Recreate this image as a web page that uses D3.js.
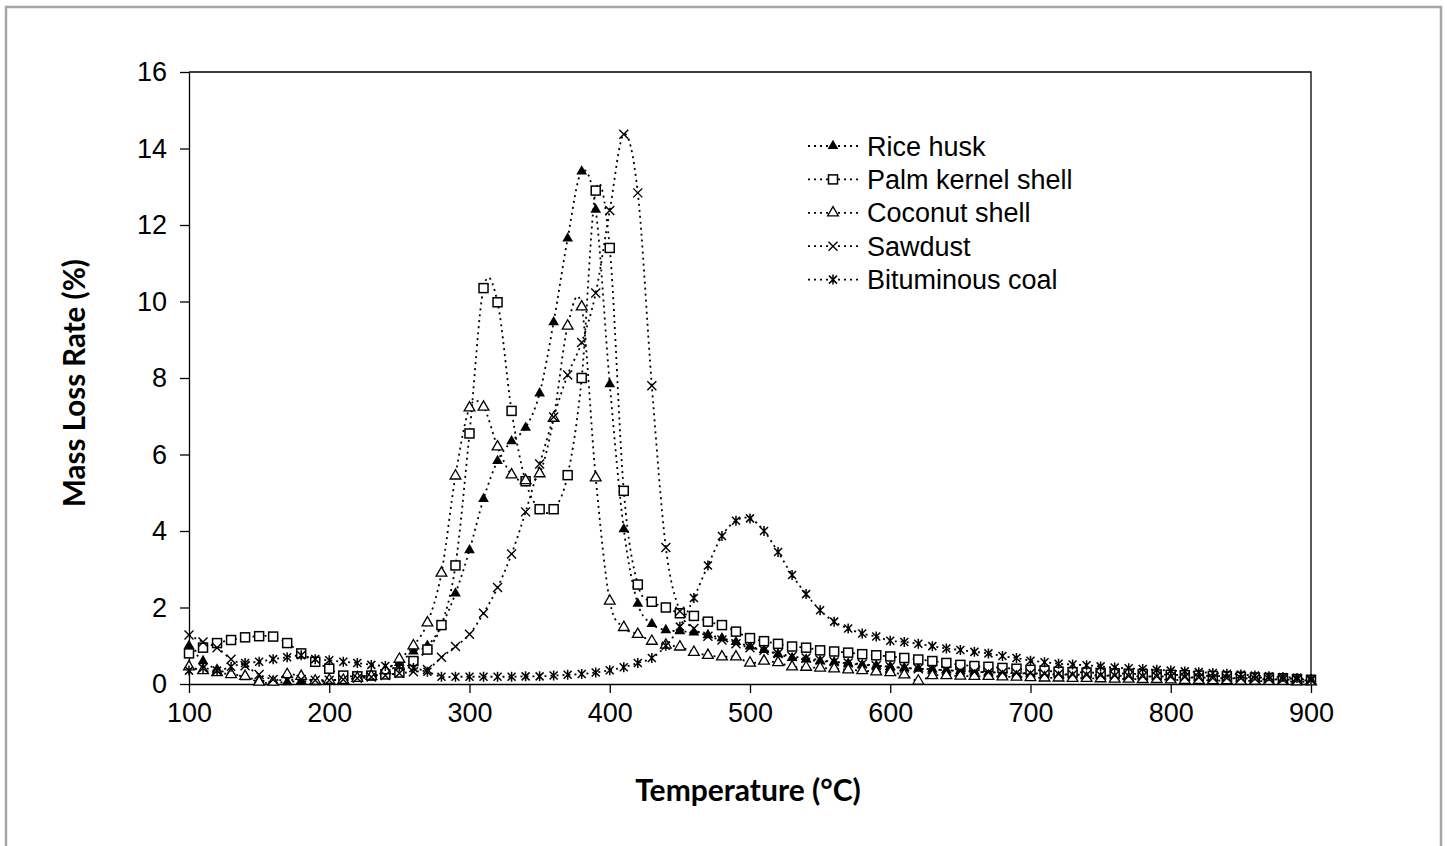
<!DOCTYPE html>
<html><head><meta charset="utf-8">
<script src="https://cdn.jsdelivr.net/npm/d3@7"></script>
<style>body{margin:0;background:#fff;}svg{display:block;}</style>
</head><body>
<svg id="chart" width="1447" height="846"></svg>
<script>
const temperatures = [100,110,120,130,140,150,160,170,180,190,200,210,220,230,240,250,260,270,280,290,300,310,320,330,340,350,360,370,380,390,400,410,420,430,440,450,460,470,480,490,500,510,520,530,540,550,560,570,580,590,600,610,620,630,640,650,660,670,680,690,700,710,720,730,740,750,760,770,780,790,800,810,820,830,840,850,860,870,880,890,900];
const riceHusk = [1.0,0.6,0.38,0.28,0.18,0.1,0.05,0.05,0.08,0.05,0.08,0.15,0.2,0.22,0.28,0.55,0.85,1.0,1.52,2.37,3.5,4.84,5.83,6.35,6.7,7.6,9.46,11.65,13.4,12.4,7.84,4.05,2.1,1.57,1.41,1.38,1.35,1.28,1.2,1.1,0.98,0.89,0.78,0.68,0.64,0.6,0.57,0.54,0.5,0.48,0.45,0.42,0.4,0.38,0.36,0.34,0.32,0.3,0.29,0.28,0.27,0.26,0.25,0.24,0.23,0.22,0.21,0.2,0.2,0.19,0.18,0.17,0.16,0.15,0.15,0.14,0.13,0.12,0.11,0.1,0.09];
const palmKernelShell = [0.8,0.95,1.07,1.15,1.22,1.25,1.24,1.07,0.8,0.58,0.4,0.22,0.2,0.22,0.25,0.3,0.6,0.9,1.54,3.1,6.55,10.35,9.98,7.14,5.3,4.57,4.57,5.46,8.0,12.9,11.4,5.05,2.6,2.15,2.0,1.85,1.78,1.63,1.54,1.37,1.2,1.12,1.05,0.98,0.95,0.88,0.85,0.82,0.78,0.75,0.72,0.68,0.64,0.6,0.55,0.5,0.47,0.45,0.42,0.4,0.37,0.35,0.32,0.31,0.3,0.29,0.28,0.27,0.26,0.25,0.24,0.23,0.22,0.21,0.2,0.19,0.17,0.16,0.15,0.13,0.11];
const coconutShell = [0.45,0.35,0.3,0.25,0.2,0.05,0.05,0.25,0.2,0.08,0.1,0.1,0.15,0.2,0.35,0.65,1.0,1.6,2.9,5.44,7.22,7.24,6.2,5.47,5.32,5.5,6.95,9.36,9.86,5.39,2.17,1.48,1.3,1.12,1.02,0.97,0.83,0.75,0.71,0.71,0.55,0.6,0.56,0.45,0.44,0.42,0.4,0.37,0.35,0.32,0.3,0.24,0.08,0.22,0.22,0.21,0.2,0.2,0.19,0.18,0.17,0.16,0.16,0.15,0.15,0.14,0.13,0.13,0.12,0.12,0.11,0.1,0.1,0.09,0.09,0.08,0.08,0.07,0.07,0.06,0.06];
const sawdust = [1.28,1.1,0.95,0.65,0.48,0.25,0.12,0.1,0.12,0.1,0.1,0.12,0.15,0.18,0.22,0.28,0.32,0.38,0.7,0.98,1.3,1.85,2.52,3.4,4.5,5.75,6.98,8.08,8.93,10.22,12.38,14.37,12.84,7.8,3.57,1.9,1.45,1.25,1.15,1.05,0.95,0.88,0.8,0.72,0.68,0.63,0.58,0.55,0.52,0.48,0.45,0.42,0.4,0.38,0.36,0.34,0.32,0.31,0.3,0.29,0.28,0.27,0.26,0.25,0.24,0.23,0.22,0.21,0.2,0.2,0.19,0.18,0.17,0.16,0.16,0.15,0.14,0.13,0.12,0.11,0.1];
const bituminousCoal = [0.35,0.42,0.35,0.45,0.55,0.58,0.65,0.7,0.75,0.65,0.62,0.58,0.55,0.5,0.47,0.45,0.42,0.32,0.19,0.19,0.19,0.19,0.19,0.19,0.2,0.2,0.22,0.24,0.26,0.3,0.36,0.44,0.55,0.68,1.0,1.5,2.25,3.1,3.87,4.27,4.33,4.0,3.45,2.85,2.35,1.93,1.63,1.45,1.32,1.24,1.13,1.1,1.05,0.99,0.93,0.89,0.84,0.8,0.73,0.68,0.61,0.57,0.53,0.51,0.49,0.46,0.43,0.41,0.39,0.37,0.35,0.33,0.31,0.29,0.27,0.25,0.22,0.2,0.18,0.16,0.13];
const seriesNames = ["Rice husk","Palm kernel shell","Coconut shell","Sawdust","Bituminous coal"];
const xTicks = [100,200,300,400,500,600,700,800,900];
const yTicks = [0,2,4,6,8,10,12,14,16];
const xTitle = "Temperature (°C)";
const yTitle = "Mass Loss Rate (%)";

const seriesData = [riceHusk, palmKernelShell, coconutShell, sawdust, bituminousCoal];
const markerKinds = ["filledTriangle","square","openTriangle","cross","asterisk"];

const svg = d3.select("#chart");
const pL = 189, pR = 1311, pT = 72, pB = 684;
const x = d3.scaleLinear().domain([100,900]).range([pL,pR]);
const y = d3.scaleLinear().domain([0,16]).range([pB,pT]);

svg.append("rect").attr("x",6).attr("y",7).attr("width",1435).attr("height",860)
  .attr("fill","#fff").attr("stroke","#a6a6a6").attr("stroke-width",2.5);

svg.append("path").attr("d",`M${pL},${pT}H${pR}V${pB}`).attr("fill","none").attr("stroke","#000").attr("stroke-width",1.3);

const xAxis = d3.axisBottom(x).tickValues(xTicks).tickSize(9).tickSizeOuter(0).tickPadding(10);
const gx = svg.append("g").attr("transform",`translate(0,${pB})`).call(xAxis);
const yAxis = d3.axisLeft(y).tickValues(yTicks).tickSize(9).tickSizeOuter(0).tickPadding(13);
const gy = svg.append("g").attr("transform",`translate(${pL},0)`).call(yAxis);
[gx,gy].forEach(g=>{
  g.selectAll(".domain").attr("stroke","#000").attr("stroke-width",1.3);
  g.selectAll(".tick line").attr("stroke","#000").attr("stroke-width",1.3);
  g.selectAll("text").attr("font-family","'Liberation Sans', Arial, sans-serif").attr("font-size",27).attr("fill","#000");
});

svg.append("text").attr("x",748).attr("y",801).attr("text-anchor","middle")
  .attr("font-family","Lato, 'Open Sans', sans-serif").attr("font-weight","bold").attr("font-size",30)
  .text(xTitle);
svg.append("text").attr("transform","translate(85,383) rotate(-90)").attr("text-anchor","middle")
  .attr("font-family","Lato, 'Open Sans', sans-serif").attr("font-weight","bold").attr("font-size",29.5)
  .text(yTitle);

function drawMarker(g, kind, cx, cy){
  if(kind==="filledTriangle"){
    g.append("path").attr("d",d3.symbol(d3.symbolTriangle,50)()).attr("transform",`translate(${cx},${cy})`).attr("fill","#000");
  } else if(kind==="square"){
    g.append("rect").attr("x",cx-4.5).attr("y",cy-4.5).attr("width",9).attr("height",9).attr("fill","#fff").attr("stroke","#000").attr("stroke-width",1.5);
  } else if(kind==="openTriangle"){
    g.append("path").attr("d",d3.symbol(d3.symbolTriangle,50)()).attr("transform",`translate(${cx},${cy})`).attr("fill","#fff").attr("stroke","#000").attr("stroke-width",1.3);
  } else if(kind==="cross"){
    g.append("path").attr("d",`M${cx-4.5},${cy-4.5}L${cx+4.5},${cy+4.5}M${cx-4.5},${cy+4.5}L${cx+4.5},${cy-4.5}`).attr("stroke","#000").attr("stroke-width",1.4).attr("fill","none");
  } else if(kind==="asterisk"){
    g.append("path").attr("d",`M${cx-4},${cy-4}L${cx+4},${cy+4}M${cx-4},${cy+4}L${cx+4},${cy-4}M${cx},${cy-5}L${cx},${cy+5}`).attr("stroke","#000").attr("stroke-width",1.5).attr("fill","none");
  }
}

const line = d3.line().x(d=>x(d[0])).y(d=>y(d[1])).curve(d3.curveCardinal.tension(0));
const plot = svg.append("g");
seriesData.forEach((vals)=>{
  const pts = temperatures.map((t,i)=>[t,vals[i]]);
  plot.append("path").attr("d",line(pts)).attr("fill","none").attr("stroke","#000")
    .attr("stroke-width",1.8).attr("stroke-dasharray","2,4");
});
seriesData.forEach((vals,si)=>{
  const g = plot.append("g");
  temperatures.forEach((t,i)=>drawMarker(g, markerKinds[si], x(t), y(vals[i])));
});

const lg = svg.append("g");
seriesNames.forEach((name,i)=>{
  const cy = 146 + i*33.4;
  lg.append("line").attr("x1",808).attr("x2",860).attr("y1",cy).attr("y2",cy)
    .attr("stroke","#000").attr("stroke-width",1.8).attr("stroke-dasharray","2,4");
  drawMarker(lg, markerKinds[i], 833, cy);
  lg.append("text").attr("x",867).attr("y",cy+9.5).attr("font-family","'Liberation Sans', Arial, sans-serif")
    .attr("font-size",27).attr("fill","#000").text(name);
});
</script>
</body></html>
